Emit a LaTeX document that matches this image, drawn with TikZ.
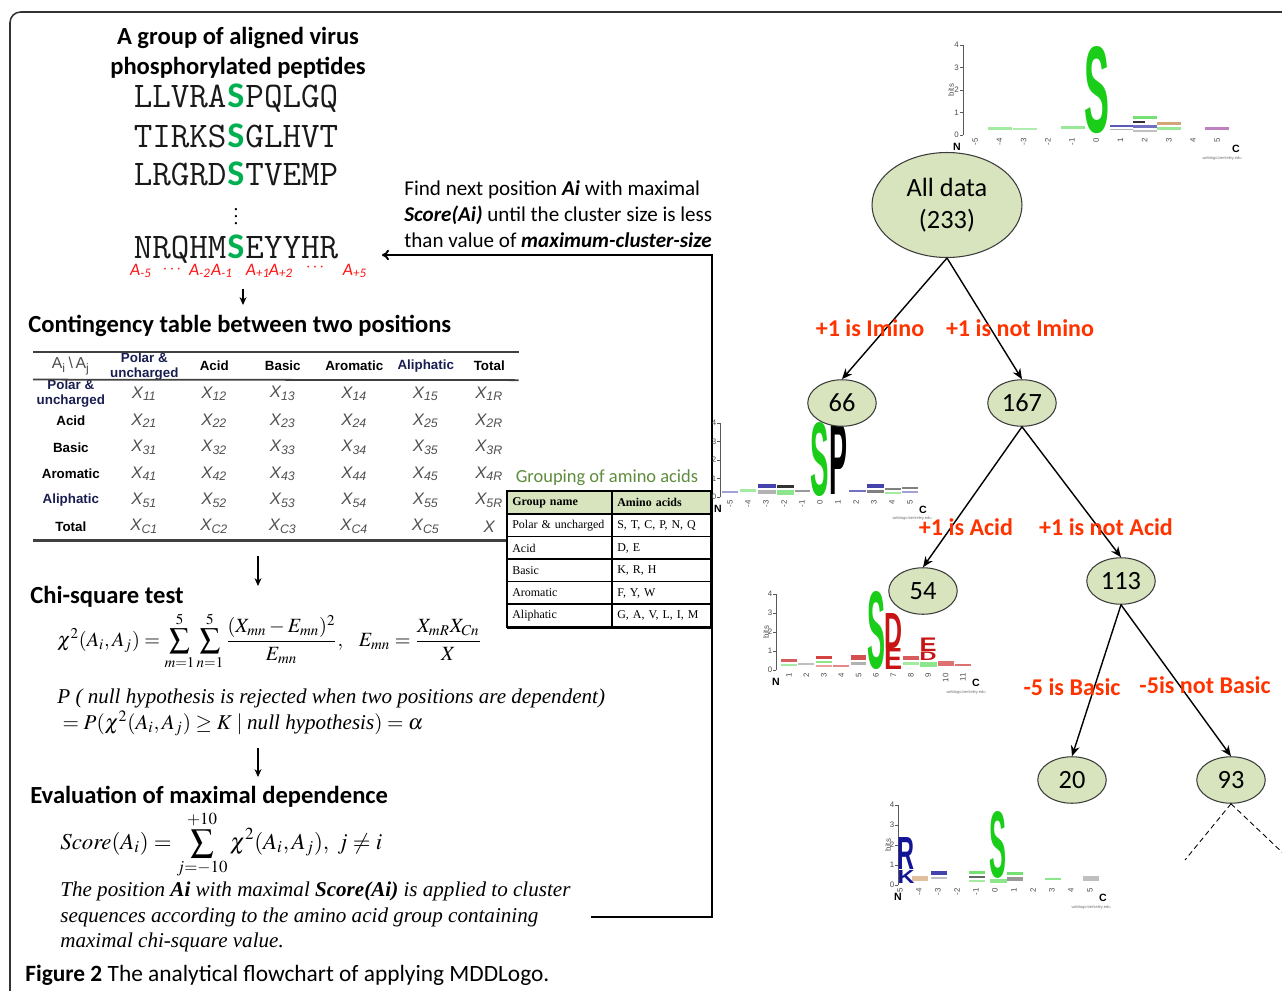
\documentclass[tikz,border=0pt]{standalone}
\usepackage{graphicx}
\usepackage{mathptmx}
\usepackage{fontspec}
\setmainfont{Liberation Serif}
\setsansfont{Carlito}
\newfontfamily\arialfont{Liberation Sans}
\definecolor{sgreen}{RGB}{0, 176, 80}
\definecolor{posred}{RGB}{255, 20, 20}
\definecolor{splitred}{RGB}{255, 51, 0}
\definecolor{nodefill}{RGB}{215, 228, 189}
\definecolor{nodeline}{RGB}{60, 60, 60}
\definecolor{grpgreen}{RGB}{95, 140, 60}
\definecolor{grphead}{RGB}{215, 228, 189}
\definecolor{cellgray}{RGB}{80, 80, 80}
\definecolor{navy}{RGB}{25, 30, 80}
\definecolor{lgreen}{RGB}{25, 205, 25}
\definecolor{lred}{RGB}{200, 20, 20}
\definecolor{lblue}{RGB}{20, 20, 150}
\usetikzlibrary{arrows.meta, positioning, shapes.geometric, matrix, calc}
\newcommand{\serS}{\makebox[0.525em]{\color{sgreen}\sffamily\bfseries S}}
\tikzset{
	sechead/.style={anchor=west, inner sep=0, font=\sffamily\bfseries\fontsize{14}{17}\selectfont},
	pep/.style={inner sep=0, text=black!90, font=\ttfamily\fontsize{20.5}{22}\selectfont},
	poslab/.style={inner sep=0, text=posred, font=\sffamily\itshape\fontsize{10}{12}\selectfont},
	notetext/.style={anchor=west, inner sep=0, align=left, font=\sffamily\fontsize{12}{14.7}\selectfont},
	formula/.style={anchor=west, inner sep=0, font=\fontsize{13}{15}\selectfont},
	itext/.style={anchor=north west, inner sep=0, align=left, font=\itshape\fontsize{12}{14.5}\selectfont},
	figcap/.style={anchor=west, inner sep=0, font=\sffamily\fontsize{13.3}{15}\selectfont},
	ccell/.style={inner sep=0, anchor=center, minimum height=0.53cm, text=cellgray, font=\arialfont\itshape\fontsize{9.5}{10}\selectfont},
	chead/.style={minimum height=0.52cm, text=black, font=\arialfont\bfseries\fontsize{7.6}{7.6}\selectfont},
	rlab/.style={text=black, font=\arialfont\bfseries\fontsize{7.6}{7.6}\selectfont},
	ctable/.style={matrix of nodes, inner sep=0, column sep=0, row sep=0, nodes={ccell},
		row 1/.style={nodes={chead}},
		column 1/.style={nodes={minimum width=1.5cm}}, column 2/.style={nodes={minimum width=1.44cm}},
		column 3/.style={nodes={minimum width=1.36cm}}, column 4/.style={nodes={minimum width=1.38cm}},
		column 5/.style={nodes={minimum width=1.48cm}}, column 6/.style={nodes={minimum width=1.38cm}},
		column 7/.style={nodes={minimum width=1.16cm}}},
	crule/.style={draw=black!75, line width=1.4pt},
	gcell/.style={fill=white, anchor=center, inner xsep=0.1cm, inner ysep=0, minimum height=0.45cm, align=left, font=\rmfamily\fontsize{6.8}{7}\selectfont},
	ghdr/.style={fill=grphead, minimum height=0.46cm, font=\rmfamily\bfseries\fontsize{6.8}{7}\selectfont},
	gtable/.style={matrix of nodes, inner sep=0, column sep=0, row sep=0, nodes={gcell},
		column 1/.style={nodes={text width=1.9cm}}, column 2/.style={nodes={text width=1.76cm}}},
	treenode/.style={ellipse, draw=nodeline, fill=nodefill, line width=0.6pt, inner sep=0, minimum width=1.37cm, minimum height=0.93cm, font=\sffamily\fontsize{15}{18}\selectfont},
	rootnode/.style={treenode, minimum width=3cm, minimum height=2.1cm, align=center},
	splitlab/.style={inner sep=0, text=splitred, font=\sffamily\bfseries\fontsize{13.7}{16}\selectfont},
	treearrow/.style={-{Stealth[length=6pt, width=5pt]}, line width=0.8pt},
	stub/.style={line width=0.5pt, dash pattern=on 3pt off 2pt},
	downarrow/.style={-{Stealth[length=4.5pt, width=4pt]}, line width=0.6pt},
	loopline/.style={-{To[length=4pt, width=6pt]}, line width=1.1pt},
	outerframe/.style={draw=black!80, line width=0.9pt, rounded corners=6pt},
	logoaxis/.style={draw=black!65, line width=0.4pt},
	logotick/.style={inner sep=0, text=black!70, font=\arialfont\fontsize{4.5}{4.5}\selectfont},
	logoend/.style={inner sep=0, font=\arialfont\bfseries\fontsize{6}{6}\selectfont},
	weblogo/.style={inner sep=0, text=black!55, font=\arialfont\fontsize{2.3}{2.3}\selectfont},
	logoletter/.style={anchor=south, inner sep=0, font=\arialfont\bfseries},
}
\begin{document}
\begin{tikzpicture}[x=0.02cm, y=-0.02cm]
	\useasboundingbox (0,0) rectangle (1282,991);
	\draw[outerframe] (10,1000) -- (10,12) -- (1295,12);

	% left column: peptides and method
	\node[inner sep=0, align=center, font=\sffamily\bfseries\fontsize{14}{17}\selectfont] (title) at (238,53) {A group of aligned virus\\phosphorylated peptides};
	\node[pep] (pep1) at (236,98) {LLVRA\serS PQLGQ};
	\node[pep] (pep2) at (236,136) {TIRKS\serS GLHVT};
	\node[pep] (pep3) at (236,174) {LRGRD\serS TVEMP};
	\node[inner sep=0, font=\fontsize{11}{11}\selectfont] (vdot) at (236,211) {$\vdots$};
	\node[pep] (pep4) at (236,249) {NRQHM\serS EYYHR};
	\node[poslab] (pa5m) at (141,271) {A\textsubscript{-5}};
	\node[poslab] (pdl) at (172,270) {\textbf{$\cdots$}};
	\node[poslab] (pa2m) at (200,271) {A\textsubscript{-2}};
	\node[poslab] (pa1m) at (222,271) {A\textsubscript{-1}};
	\node[poslab] (pa1p) at (258,271) {A\textsubscript{+1}};
	\node[poslab] (pa2p) at (281,271) {A\textsubscript{+2}};
	\node[poslab] (pdr) at (315,268) {\textbf{$\cdots$}};
	\node[poslab] (pa5p) at (355,271) {A\textsubscript{+5}};
	\coordinate (s1a) at (243,289);
	\coordinate (s1b) at (243,305);
	\draw[downarrow] (s1a) -- (s1b);

	\node[sechead] (conthead) at (28,326) {Contingency table between two positions};
	\matrix (ctab) [ctable, anchor=north west] at (33,352) {
		|[text=black!70, font=\arialfont\fontsize{9}{9}\selectfont]| A\textsubscript{i}\,\textbackslash\,A\textsubscript{j} & |[text=navy]| \shortstack{Polar \&\\uncharged} & Acid & Basic & Aromatic & |[text=navy]| Aliphatic & Total \\
		|[rlab, text=navy]| \shortstack{Polar \&\\uncharged} & X\textsubscript{11} & X\textsubscript{12} & X\textsubscript{13} & X\textsubscript{14} & X\textsubscript{15} & X\textsubscript{1R} \\
		|[rlab]| Acid & X\textsubscript{21} & X\textsubscript{22} & X\textsubscript{23} & X\textsubscript{24} & X\textsubscript{25} & X\textsubscript{2R} \\
		|[rlab]| Basic & X\textsubscript{31} & X\textsubscript{32} & X\textsubscript{33} & X\textsubscript{34} & X\textsubscript{35} & X\textsubscript{3R} \\
		|[rlab]| Aromatic & X\textsubscript{41} & X\textsubscript{42} & X\textsubscript{43} & X\textsubscript{44} & X\textsubscript{45} & X\textsubscript{4R} \\
		|[rlab, text=navy]| Aliphatic & X\textsubscript{51} & X\textsubscript{52} & X\textsubscript{53} & X\textsubscript{54} & X\textsubscript{55} & X\textsubscript{5R} \\
		|[rlab]| Total & X\textsubscript{C1} & X\textsubscript{C2} & X\textsubscript{C3} & X\textsubscript{C4} & X\textsubscript{C5} & X \\
	};
	\draw[crule] (ctab.north west) -- (ctab.north east);
	\draw[crule, line width=1pt] (ctab-2-1.north west) -- (ctab-2-7.north east);
	\draw[crule] (ctab.south west) -- (ctab.south east);

	\node[inner sep=0, text=grpgreen, font=\sffamily\fontsize{10.5}{12}\selectfont] (grptitle) at (607,478) {Grouping of amino acids};
	\matrix (gtab) [gtable, anchor=north west] at (507,491) {
		|[ghdr]| Group name & |[ghdr]| Amino acids \\
		Polar \& uncharged & S, T, C, P, N, Q \\
		Acid & D, E \\
		Basic & K, R, H \\
		Aromatic & F, Y, W \\
		Aliphatic & G, A, V, L, I, M \\
	};
	\foreach \r in {2,...,6}
		\draw[line width=0.7pt] (gtab-\r-1.north west) -- (gtab-\r-2.north east);
	\draw[line width=0.7pt] (gtab-1-2.north west) -- (gtab-6-2.south west);
	\draw[line width=1pt] (gtab.north west) rectangle (gtab.south east);
	\draw[line width=1.8pt] (gtab.south west) -- (gtab.south east);

	\coordinate (s2a) at (258,556);
	\coordinate (s2b) at (258,586);
	\draw[downarrow] (s2a) -- (s2b);
	\node[sechead] (chihead) at (30,597) {Chi-square test};
	\node[formula, font=\fontsize{11.5}{14}\selectfont] (chi) at (57,641) {$\displaystyle \chi^2(A_i,A_j)=\sum_{m=1}^{5}\sum_{n=1}^{5}\frac{(X_{mn}-E_{mn})^2}{E_{mn}},\;\;\; E_{mn}=\frac{X_{mR}X_{Cn}}{X}$};
	\node[itext] (pnull) at (57,689) {P ( null hypothesis is rejected when two positions are dependent)\\\hspace*{3pt}$= P(\chi^2(A_i,A_j)\geq K \mid \textit{null hypothesis}) = \alpha$};
	\coordinate (s3a) at (258,748);
	\coordinate (s3b) at (258,777);
	\draw[downarrow] (s3a) -- (s3b);
	\node[sechead] (evalhead) at (30,797) {Evaluation of maximal dependence};
	\node[formula] (score) at (60,845) {$\mathit{Score}(A_i)=\displaystyle\sum_{j=-10}^{+10}\chi^2(A_i,A_j),\ j\neq i$};
	\node[itext] (evaltxt) at (60,882) {The position \textbf{Ai} with maximal \textbf{Score(Ai)} is applied to cluster\\sequences according to the amino acid group containing\\maximal chi-square value.};
	\node[figcap] (cap) at (25,975) {\textbf{Figure 2} The analytical flowchart of applying MDDLogo.};

	% loop back to the peptides
	\node[notetext] (findtxt) at (404,214) {Find next position \textbf{\textit{Ai}} with maximal\\\textbf{\textit{Score(Ai)}} until the cluster size is less\\than value of \textbf{\textit{maximum-cluster-size}}};
	\coordinate (loopcorner) at (712,255);
	\coordinate (loopend) at (382,255);
	\draw[loopline] (evaltxt.east) ++(20,0) -| (loopcorner) -- (loopend);

	% logo above the root
	\draw[logoaxis] (963,135) -- (963,45);
	\foreach \k in {0,...,4} {
		\draw[logoaxis] (960,135-22.5*\k) -- (963,135-22.5*\k);
		\node[logotick, anchor=east] (l0y\k) at (959,135-22.5*\k) {\k};
	}
	\node[logotick, rotate=90] (l0bits) at (951,90) {bits};
	\foreach \p [count=\c] in {-5,-4,-3,-2,-1,0,1,2,3,4,5}
		\node[logotick, rotate=90, anchor=east] (l0x\c) at (951+24.2*\c,138) {\p};
	\node[logoend] (l0N) at (957,147) {N};
	\node[logoend] (l0C) at (1236,149) {C};
	\node[weblogo] (l0w) at (1222,158) {weblogo.berkeley.edu};
	\fill[lgreen!40] (988,127) rectangle (1012,130);
	\fill[lgreen!35] (1013,128) rectangle (1037,130);
	\fill[lgreen!45] (1061,126) rectangle (1085,129);
	\fill[lblue!70] (1110,125) rectangle (1133,127);
	\fill[black!30] (1110,129) rectangle (1133,130);
	\fill[lgreen!60] (1133,116) rectangle (1157,119);
	\fill[black!80] (1133,121) rectangle (1145,123);
	\fill[lblue!60] (1133,125) rectangle (1157,128);
	\fill[black!25] (1133,130) rectangle (1157,132);
	\fill[brown!70] (1157,122) rectangle (1181,125);
	\fill[lgreen!45] (1157,127) rectangle (1181,130);
	\fill[violet!50] (1205,127) rectangle (1229,130);
	\node[logoletter, text=lgreen] (l0S) at (1097,134) {\resizebox{0.5cm}{1.72cm}{S}};

	% logo of cluster 66
	\draw[logoaxis] (720,497) -- (720,423);
	\foreach \k in {0,...,4} {
		\draw[logoaxis] (717,497-18.5*\k) -- (720,497-18.5*\k);
		\node[logotick, anchor=east] (l1y\k) at (716.5,497-18.5*\k) {\k};
	}
	\foreach \p [count=\c] in {-5,-4,-3,-2,-1,0,1,2,3,4,5}
		\node[logotick, rotate=90, anchor=east] (l1x\c) at (712+18*\c,500) {\p};
	\node[logoend] (l1N) at (718,509) {N};
	\node[logoend] (l1C) at (923,510) {C};
	\node[weblogo] (l1w) at (912,518) {weblogo.berkeley.edu};
	\fill[lblue!40] (722,491) rectangle (738,493);
	\fill[lgreen!40] (740,489) rectangle (756,492);
	\fill[lblue!80] (758,484) rectangle (776,488);
	\fill[black!30] (758,490) rectangle (776,494);
	\fill[black!80] (777,485) rectangle (794,488);
	\fill[lgreen!50] (777,490) rectangle (794,495);
	\fill[black!40] (795,490) rectangle (810,492);
	\fill[lblue!60] (849,490) rectangle (866,492);
	\fill[lblue!80] (867,484) rectangle (884,488);
	\fill[black!50] (867,490) rectangle (884,493);
	\fill[black!50] (885,488) rectangle (901,490);
	\fill[lgreen!40] (885,492) rectangle (901,494);
	\fill[black!50] (902,487) rectangle (918,489);
	\fill[lblue!40] (902,491) rectangle (918,493);
	\node[logoletter, text=lgreen] (l1S) at (820,497) {\resizebox{0.37cm}{1.46cm}{S}};
	\node[logoletter, text=black] (l1P) at (838,495) {\resizebox{0.36cm}{1.42cm}{P}};

	% logo of cluster 54
	\draw[logoaxis] (776,670) -- (776,594);
	\foreach \k in {0,...,4} {
		\draw[logoaxis] (773,670-19*\k) -- (776,670-19*\k);
		\node[logotick, anchor=east] (l2y\k) at (772.5,670-19*\k) {\k};
	}
	\node[logotick, rotate=90] (l2bits) at (766,632) {bits};
	\foreach \p [count=\c] in {1,...,11}
		\node[logotick, rotate=90, anchor=east] (l2x\c) at (771.6+17.4*\c,673) {\p};
	\node[logoend] (l2N) at (776,682) {N};
	\node[logoend] (l2C) at (976,683) {C};
	\node[weblogo] (l2w) at (966,692) {weblogo.berkeley.edu};
	\fill[lred!70] (781,659) rectangle (797,662);
	\fill[lgreen!40] (781,664) rectangle (797,666);
	\fill[black!25] (798,663) rectangle (814,665);
	\fill[lred!80] (816,656) rectangle (832,659);
	\fill[lgreen!50] (816,661) rectangle (832,663);
	\fill[lred!40] (816,665) rectangle (832,667);
	\fill[lred!50] (833,665) rectangle (849,667);
	\fill[lred!75] (851,655) rectangle (866,660);
	\fill[black!30] (851,662) rectangle (866,665);
	\fill[lred!70] (903,656) rectangle (919,660);
	\fill[lgreen!40] (903,662) rectangle (919,665);
	\fill[lgreen!50] (920,662) rectangle (937,667);
	\fill[lred!60] (938,661) rectangle (954,666);
	\fill[lred!60] (955,664) rectangle (971,666);
	\node[logoletter, text=lgreen] (l2S) at (876,670) {\resizebox{0.36cm}{1.54cm}{S}};
	\node[logoletter, text=lred] (l2E) at (893,670) {\resizebox{0.36cm}{0.42cm}{E}};
	\node[logoletter, text=lred] (l2D) at (893,649) {\resizebox{0.36cm}{0.7cm}{D}};
	\node[logoletter, text=lred] (l2D9) at (928,661) {\resizebox{0.34cm}{0.17cm}{D}};
	\node[logoletter, text=lred] (l2E9) at (928,652) {\resizebox{0.34cm}{0.27cm}{E}};

	% logo of cluster 20
	\draw[logoaxis] (898,885) -- (898,805);
	\foreach \k in {0,...,4} {
		\draw[logoaxis] (895,885-20*\k) -- (898,885-20*\k);
		\node[logotick, anchor=east] (l3y\k) at (894.5,885-20*\k) {\k};
	}
	\node[logotick, rotate=90] (l3bits) at (888,845) {bits};
	\foreach \p [count=\c] in {-5,-4,-3,-2,-1,0,1,2,3,4,5}
		\node[logotick, rotate=90, anchor=east] (l3x\c) at (881+19*\c,888) {\p};
	\node[logoend] (l3N) at (898,897) {N};
	\node[logoend] (l3C) at (1103,898) {C};
	\node[weblogo] (l3w) at (1091,907) {weblogo.berkeley.edu};
	\fill[brown!50] (912,876) rectangle (928,881);
	\fill[lblue!80] (931,871) rectangle (947,875);
	\fill[black!25] (931,877) rectangle (947,879);
	\fill[lgreen!60] (969,871) rectangle (985,874);
	\fill[black!60] (969,876) rectangle (985,878);
	\fill[lgreen!40] (969,880) rectangle (985,882);
	\fill[lgreen!50] (990,879) rectangle (1007,883);
	\fill[lgreen!60] (1007,872) rectangle (1023,875);
	\fill[black!40] (1007,877) rectangle (1023,881);
	\fill[lgreen!50] (1045,878) rectangle (1061,880);
	\fill[black!25] (1083,876) rectangle (1099,881);
	\node[logoletter, text=lblue] (l3K) at (906,884) {\resizebox{0.34cm}{0.26cm}{K}};
	\node[logoletter, text=lblue] (l3R) at (906,870) {\resizebox{0.34cm}{0.64cm}{R}};
	\node[logoletter, text=lgreen] (l3S) at (998,879) {\resizebox{0.34cm}{1.32cm}{S}};

	% decision tree
	\node[rootnode] (root) at (947,205) {All data\\(233)};
	\node[treenode] (n66) at (842,403) {66};
	\node[treenode] (n167) at (1022,403) {167};
	\node[treenode] (n54) at (923,591) {54};
	\node[treenode] (n113) at (1121,581) {113};
	\node[treenode] (n20) at (1072,780) {20};
	\node[treenode] (n93) at (1231,780) {93};
	\draw[treearrow] (root.south) -- (n66.north);
	\draw[treearrow] (root.south) -- (n167.north);
	\draw[treearrow] (n167.south) -- (n54.north);
	\draw[treearrow] (n167.south) -- (n113.north);
	\draw[treearrow] (n113.south) -- (n20.north);
	\draw[treearrow] (n113.south) -- (n93.north);
	\coordinate (c93l) at (1185,860);
	\coordinate (c93r) at (1285,855);
	\draw[stub] (n93.south) -- (c93l);
	\draw[stub] (n93.south) -- (c93r);
	\node[splitlab] (sl1) at (870,328) {+1 is Imino};
	\node[splitlab] (sr1) at (1020,328) {+1 is not Imino};
	\node[splitlab] (sl2) at (966,527) {+1 is Acid};
	\node[splitlab] (sr2) at (1106,527) {+1 is not Acid};
	\node[splitlab] (sl3) at (1072,687) {-5 is Basic};
	\node[splitlab] (sr3) at (1205,685) {-5is not Basic};
\end{tikzpicture}
\end{document}
